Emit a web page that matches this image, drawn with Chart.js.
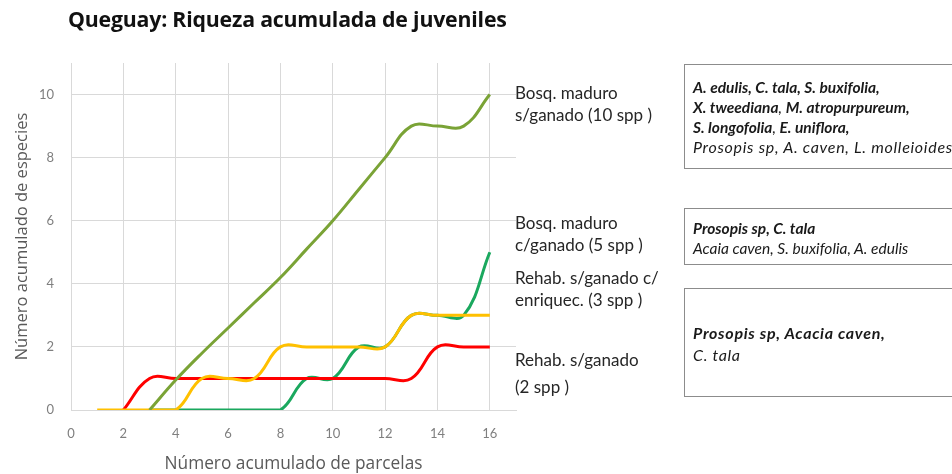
<!DOCTYPE html>
<html>
<head>
<meta charset="utf-8">
<script src="https://cdn.jsdelivr.net/npm/chart.js@4/dist/chart.umd.min.js"></script>
<style>
    body { margin: 0; background: #fff; overflow: hidden; font-family: Lato, "Open Sans", sans-serif; }
    #wrap { position: relative; width: 952px; height: 474px; overflow: hidden; }
    #riqueza { position: absolute; left: 0; top: 0; }
    .titulo { position: absolute; left: 68px; top: 4px; font-family: "Open Sans", sans-serif; font-size: 21.3px; font-weight: bold; color: #111; white-space: nowrap; letter-spacing: -0.2px; }
    .etiqueta { position: absolute; left: 515px; font-size: 17px; line-height: 22px; color: #262626; white-space: nowrap; }
    .caja { position: absolute; left: 684px; width: 300px; border: 1px solid #8c8c8c; font-size: 15.5px; line-height: 20px; font-style: italic; color: #1a1a1a; white-space: nowrap; padding-left: 8px; box-sizing: border-box; }
    .caja b { font-weight: bold; }
    .ancha { font-size: 16px; letter-spacing: 0.7px; }
</style>
</head>
<body>
<div id="wrap">
    <canvas id="riqueza" width="952" height="474"></canvas>
    <div class="titulo">Queguay: Riqueza acumulada de juveniles</div>

    <div class="etiqueta" style="top: 82px">Bosq. maduro<br>s/ganado (10 spp )</div>
    <div class="etiqueta" style="top: 212px">Bosq. maduro<br>c/ganado (5 spp )</div>
    <div class="etiqueta" style="top: 267px">Rehab. s/ganado c/<br>enriquec. (3 spp )</div>
    <div class="etiqueta" style="top: 346px; line-height: 27px">Rehab. s/ganado<br>(2 spp )</div>

    <div class="caja" style="top: 64px; height: 105px; padding-top: 12px">
        <b>A. edulis, C. tala, S. buxifolia,</b><br>
        <b>X. tweediana</b>, <b>M. atropurpureum,</b><br>
        <b>S. longofolia</b>, <b> E. uniflora,</b><br>
        <span class="ancha">Prosopis sp, A. caven, L. molleioides</span>
    </div>
    <div class="caja" style="top: 208px; height: 57px; padding-top: 9px">
        <b>Prosopis sp, C. tala</b><br>
        Acaia caven, S. buxifolia, A. edulis
    </div>
    <div class="caja ancha" style="top: 288px; height: 109px; padding-top: 33px; line-height: 21.5px">
        <b>Prosopis sp, Acacia caven,</b><br>
        C. tala
    </div>
</div>
<script>
// parcelas muestreadas (eje x) y especies acumuladas por tratamiento
var parcelas = [1, 2, 3, 4, 5, 6, 7, 8, 9, 10, 11, 12, 13, 14, 15, 16];
var bosqSinGanado = [null, null, 0, 0.95, 1.8, 2.6, 3.4, 4.2, 5.1, 6, 7, 8, 9, 9, 9, 10];
var bosqConGanado = [null, null, 0, 0, 0, 0, 0, 0, 1, 1, 2, 2, 3, 3, 3, 5];
var rehabEnriq = [0, 0, 0, 0, 1, 1, 1, 2, 2, 2, 2, 2, 3, 3, 3, 3];
var rehabSinGanado = [null, 0, 1, 1, 1, 1, 1, 1, 1, 1, 1, 1, 1, 2, 2, 2];
var ticksX = [0, 2, 4, 6, 8, 10, 12, 14, 16];
var ticksY = [0, 2, 4, 6, 8, 10];

function puntos(valores) {
    return parcelas.map(function (p, i) {
        return { x: p, y: valores[i] };
    });
}

function serie(label, valores, color) {
    return {
        label: label,
        data: puntos(valores),
        borderColor: color,
        backgroundColor: color,
        borderWidth: 3,
        pointRadius: 0,
        tension: 0.4,
        fill: false
    };
}

Chart.defaults.font.family = "Lato, 'Open Sans', sans-serif";

var ctx = document.getElementById("riqueza").getContext('2d');
var chart = new Chart(ctx, {
    type: 'line',
    data: {
        datasets: [
            serie('Bosq. maduro s/ganado', bosqSinGanado, '#7aa336'),
            serie('Rehab. s/ganado c/enriquec.', rehabEnriq, '#ffc000'),
            serie('Rehab. s/ganado', rehabSinGanado, '#ff0000'),
            serie('Bosq. maduro c/ganado', bosqConGanado, '#1aa85e')
        ]
    },
    options: {
        responsive: false,
        animation: false,
        layout: { padding: { top: 63, right: 436, left: 0, bottom: 0 } },
        plugins: {
            legend: { display: false },
            tooltip: { enabled: false }
        },
        scales: {
            x: {
                type: 'linear',
                min: 0,
                max: 17,
                afterBuildTicks: function (scale) {
                    scale.ticks = ticksX.map(function (v) { return { value: v }; });
                },
                afterFit: function (scale) { scale.height = 64; },
                grid: { color: '#d9d9d9', drawTicks: false },
                border: { color: '#d9d9d9' },
                ticks: { color: '#7f7f7f', font: { size: 13 }, padding: 16 },
                title: {
                    display: true,
                    text: 'Número acumulado de parcelas',
                    color: '#595959',
                    font: { family: "'Open Sans', sans-serif", size: 17.3 },
                    padding: { top: 0, bottom: 0 }
                }
            },
            y: {
                min: 0,
                max: 11,
                afterBuildTicks: function (scale) {
                    scale.ticks = ticksY.map(function (v) { return { value: v }; });
                },
                afterFit: function (scale) { scale.width = 71; },
                grid: { color: '#d9d9d9', drawTicks: false },
                border: { color: '#d9d9d9' },
                ticks: { color: '#7f7f7f', font: { size: 13 }, padding: 17 },
                title: {
                    display: true,
                    text: 'Número acumulado de especies',
                    color: '#595959',
                    font: { family: "'Open Sans', sans-serif", size: 16.5 },
                    padding: { top: 12, bottom: 0 }
                }
            }
        }
    }
})
</script>
</body>
</html>
